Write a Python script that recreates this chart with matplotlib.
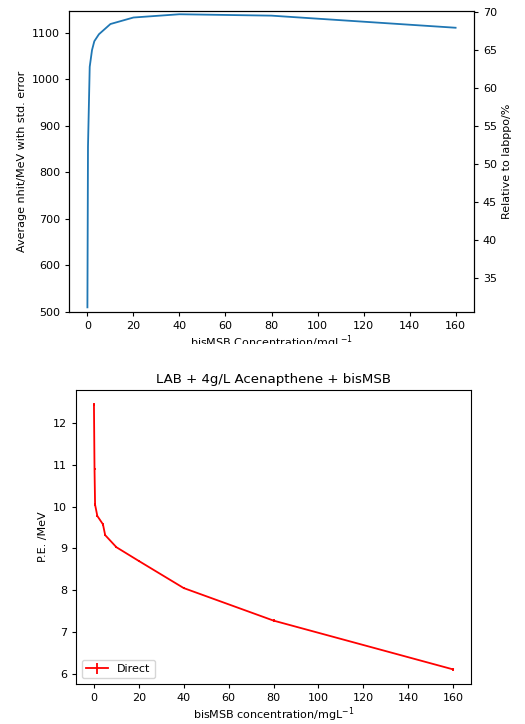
import matplotlib
matplotlib.use("Agg")
import matplotlib.pyplot as plt
from matplotlib.patches import Rectangle

# the source images look like default-style plots scaled down by ~0.8
matplotlib.rcParams.update({
    "font.size": 8,
    "axes.titlesize": 9.6,
    "axes.labelsize": 8,
    "xtick.labelsize": 8,
    "ytick.labelsize": 8,
    "legend.fontsize": 8,
    "xtick.major.size": 2.8,
    "ytick.major.size": 2.8,
    "axes.linewidth": 0.8,
})

# ── top panel: nhit/MeV vs bisMSB ────────────────────────────────────────────
conc_top = [0, 0.25, 1, 2, 3, 5, 10, 20, 40, 80, 160]
nhit = [510, 855, 1027, 1063, 1082, 1097, 1119, 1133, 1140, 1137, 1111]
labppo_nhit = 1637.0   # reference value for the right-hand axis (%)

# ── bottom panel: P.E./MeV vs bisMSB ─────────────────────────────────────────
conc_bot = [0, 0.25, 0.5, 1.5, 4, 5, 10, 20, 40, 80, 160]
pe = [12.45, 10.9, 10.05, 9.78, 9.58, 9.32, 9.03, 8.70, 8.05, 7.27, 6.10]
pe_err = [0.03, 0.03, 0.03, 0.03, 0.03, 0.03, 0.03, 0.03, 0.03, 0.03, 0.03]

fig = plt.figure(figsize=(5.25, 7.24), dpi=100)
W, H = 525, 724

ax1 = fig.add_axes([69 / W, 1 - 312 / H, 405 / W, 301 / H])
ax1.plot(conc_top, nhit, color="#1f77b4", lw=1.3)
ax1.set_ylim(500, 1147)
ax1.set_xlabel("bisMSB Concentration/mgL$^{-1}$", labelpad=2)
ax1.set_ylabel("Average nhit/MeV with std. error")
ax1r = ax1.twinx()
lo, hi = ax1.get_ylim()
ax1r.set_ylim(lo / labppo_nhit * 100, hi / labppo_nhit * 100)
ax1r.set_ylabel("Relative to labppo/%")

# the upper image's x label is cut off where the lower image starts
fig.patches.append(Rectangle((0, 0), 1, 1 - 344 / H, transform=fig.transFigure,
                             facecolor="white", edgecolor="none", zorder=5))

ax2 = fig.add_axes([76 / W, 1 - 684 / H, 395 / W, 294 / H], zorder=6)
ax2.errorbar(conc_bot, pe, yerr=pe_err, color="red", lw=1.3, label="Direct")
ax2.set_title("LAB + 4g/L Acenapthene + bisMSB", pad=5)
ax2.set_xlabel("bisMSB concentration/mgL$^{-1}$", labelpad=2)
ax2.set_ylabel("P.E. /MeV")
ax2.legend(loc="lower left")

plt.savefig("out.png", dpi=100)
